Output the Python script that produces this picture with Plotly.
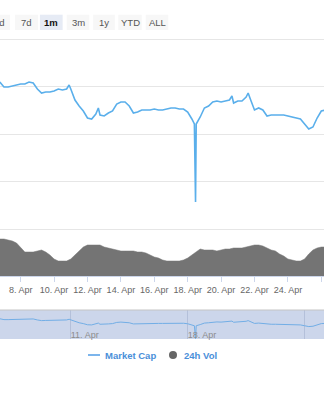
import numpy as np
import pandas as pd
import plotly.graph_objects as go

W, H = 324, 400

# ---------------- data ----------------
# market cap: April day (decimal) and value (index units)
mc_days = [6.75, 7, 7.25, 7.5, 7.75, 8, 8.25, 8.5, 8.75, 9,
           9.25, 9.5, 9.75, 10, 10.25, 10.5, 10.75, 10.9, 11, 11.25,
           11.5, 11.75, 12, 12.25, 12.5, 12.65, 12.75, 13, 13.25, 13.5,
           13.75, 14, 14.25, 14.5, 14.75, 15, 15.25, 15.5, 15.75, 16,
           16.25, 16.5, 16.75, 17, 17.25, 17.5, 17.75, 18, 18.25, 18.4,
           18.47, 18.51, 18.75, 19, 19.25, 19.5, 19.75, 20, 20.25, 20.5,
           20.65, 20.75, 21, 21.25, 21.5, 21.62, 21.75, 22, 22.25, 22.5,
           22.75, 23, 23.25, 23.5, 23.75, 24, 24.25, 24.5, 24.75, 25,
           25.25, 25.5, 25.75, 26, 26.25]
market_cap = [147, 142, 142, 143, 144, 145, 145, 147, 146, 140,
              136, 137, 137, 138, 140, 139, 140, 144, 140, 129,
              123, 118, 111, 110, 115, 121, 114, 113, 116, 118,
              125, 127, 127, 123, 116, 117, 119, 119, 119, 120,
              119, 119, 120, 121, 121, 120, 120, 117, 110, 105,
              27, 105, 112, 121, 123, 127, 128, 127, 128, 129,
              133, 126, 128, 128, 132, 136, 130, 119, 121, 119,
              113, 114, 114, 114, 114, 113, 112, 111, 110, 105,
              100, 102, 111, 118, 119]

# 24h volume, 6-hourly from 6 Apr 18:00
vol_start = "2021-04-06 18:00"
volume = [37, 37, 36, 35, 33, 28, 24, 24, 24, 25,
          26, 24, 21, 17, 15, 15, 15, 17, 21, 26,
          29, 31, 31, 31, 31, 29, 28, 27, 26, 25,
          25, 25, 25, 24, 24, 23, 21, 19, 18, 16,
          15, 15, 15, 15, 16, 18, 21, 24, 27, 26,
          26, 26, 25, 26, 27, 27, 28, 28, 28, 29,
          30, 31, 31, 30, 28, 26, 25, 22, 20, 17,
          16, 15, 15, 17, 22, 26, 28, 29, 29]

button_labels = ["1d", "7d", "1m", "3m", "1y", "YTD", "ALL"]
selected_button = "1m"
legend_labels = ["Market Cap", "24h Vol"]

x_range = ["2021-04-06 18:17", "2021-04-26 03:53"]

# ---------------- build ----------------
assert len(mc_days) == len(market_cap)
mc_x = pd.Timestamp("2021-04-01") + pd.to_timedelta(np.array(mc_days) - 1, unit="D")
vol_x = pd.date_range(vol_start, periods=len(volume), freq="6h")

LINE = "#5aafeb"
VOL = "#747474"
FONT = "Liberation Sans, Arial, sans-serif"


def X(px):
    return px / W


def Y(py):
    return 1 - py / H


fig = go.Figure()
fig.add_trace(go.Scatter(x=mc_x, y=market_cap, xaxis="x", yaxis="y", mode="lines",
                         line=dict(color=LINE, width=1.6), hoverinfo="skip",
                         showlegend=False, name=legend_labels[0]))
fig.add_trace(go.Scatter(x=vol_x, y=volume, xaxis="x", yaxis="y2", mode="lines",
                         fill="tozeroy", fillcolor=VOL, line=dict(color=VOL, width=0.5),
                         hoverinfo="skip", showlegend=False, name=legend_labels[1]))
fig.add_trace(go.Scatter(x=mc_x, y=market_cap, xaxis="x2", yaxis="y3", mode="lines",
                         line=dict(color="#72aee6", width=1), hoverinfo="skip",
                         showlegend=False))

shapes = []
annotations = []

# navigator background
shapes.append(dict(type="rect", xref="paper", yref="paper", x0=0, x1=1,
                   y0=Y(339), y1=Y(310), fillcolor="#ccd6eb", line=dict(width=0),
                   layer="below"))
shapes.append(dict(type="line", xref="paper", yref="paper", x0=0, x1=1,
                   y0=Y(310), y1=Y(310), line=dict(color="#c4c4c4", width=1)))

# range selector buttons
btn_centers = [-1, 26.5, 51.3, 78, 104, 130, 157]
btn_widths = [22, 23, 22.7, 22.6, 21.7, 23.4, 22.6]
for lab, cx, bw in zip(button_labels, btn_centers, btn_widths):
    sel = lab == selected_button
    shapes.append(dict(type="rect", xref="paper", yref="paper",
                       x0=X(cx - bw / 2), x1=X(cx + bw / 2), y0=Y(30), y1=Y(14.7),
                       fillcolor="#e6ebf5" if sel else "#f7f7f7", line=dict(width=0),
                       layer="above"))
    annotations.append(dict(xref="paper", yref="paper", x=X(cx), y=Y(22.5),
                            text=f"<b>{lab}</b>" if sel else lab, showarrow=False,
                            xanchor="center", yanchor="middle",
                            font=dict(family=FONT, size=9.5,
                                      color="#111" if sel else "#555")))

# legend
shapes.append(dict(type="line", xref="paper", yref="paper", x0=X(88), x1=X(100),
                   y0=Y(355), y1=Y(355), line=dict(color="#7cb5ec", width=2)))
shapes.append(dict(type="circle", xref="paper", yref="paper", x0=X(169), x1=X(177),
                   y0=Y(359), y1=Y(351), fillcolor="#666666", line=dict(width=0)))
for lab, lx in zip(legend_labels, [103, 182]):
    annotations.append(dict(xref="paper", yref="paper", x=X(lx), y=Y(355.5),
                            text=f"<b>{lab}</b>", showarrow=False, xanchor="left",
                            yanchor="middle",
                            font=dict(family=FONT, size=9.5, color="#4a8fd9")))

fig.update_layout(
    width=W, height=H,
    margin=dict(l=0, r=0, t=0, b=0),
    paper_bgcolor="white", plot_bgcolor="rgba(0,0,0,0)",
    font=dict(family=FONT),
    showlegend=False,
    shapes=shapes, annotations=annotations,
    xaxis=dict(domain=[0, 1], anchor="y2", type="date", range=x_range,
               tick0="2021-04-08", dtick=2 * 86400000, tickformat="%-d. %b",
               showgrid=False, showline=True, linecolor="#ccd6eb", linewidth=1,
               ticks="outside", ticklen=5, tickcolor="#ccd6eb",
               tickfont=dict(size=9, color="#666666", family=FONT), fixedrange=True),
    xaxis2=dict(domain=[0, 1], anchor="y3", type="date", matches="x",
                tick0="2021-04-04", dtick=7 * 86400000, tickformat="%-d. %b",
                showgrid=True, gridcolor="#b4c0da", gridwidth=1, ticks="", ticklen=0,
                ticklabelposition="inside right", ticklabelstandoff=-7,
                tickfont=dict(size=9, color="#8c8c8c", family=FONT)),
    yaxis=dict(domain=[Y(230), Y(37)], anchor="x", range=[-1, 192],
               tick0=0, dtick=47.5, showticklabels=False, showgrid=True,
               gridcolor="#e6e6e6", gridwidth=1, zeroline=True,
               zerolinecolor="#e6e6e6", zerolinewidth=1),
    yaxis2=dict(domain=[Y(276), Y(229)], anchor="x", range=[0, 47],
                showticklabels=False, showgrid=False, zeroline=False),
    yaxis3=dict(domain=[Y(339), Y(310)], anchor="x2", range=[25, 200],
                showticklabels=False, showgrid=False, zeroline=False),
)

fig.write_html("out.html", config=dict(displayModeBar=False))
